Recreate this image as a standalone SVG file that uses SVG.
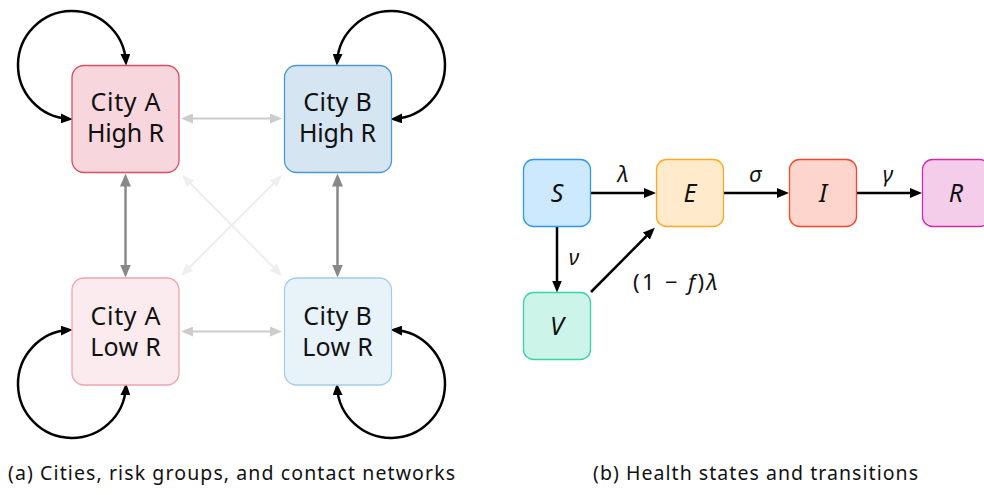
<svg xmlns="http://www.w3.org/2000/svg" width="984" height="495" viewBox="0 0 984 495">
<style>
  text { font-family: "Noto Sans", "Open Sans", "DejaVu Sans", sans-serif; fill: #111; }
  .city { font-size: 25px; text-anchor: middle; }
  .state { font-size: 25px; font-style: italic; text-anchor: middle; }
  .lbl { font-size: 22px; font-style: italic; text-anchor: middle; }
  .cap { font-size: 19.5px; }
  .loop { fill: none; stroke: #000; stroke-width: 2.5; marker-start: url(#ab); marker-end: url(#ab); }
  .flow { fill: none; stroke: #000; stroke-width: 2.5; marker-end: url(#ab); }
  .lg { fill: none; stroke: #cccccc; stroke-width: 2.2; marker-start: url(#alg); marker-end: url(#alg); }
  .dg { fill: none; stroke: #888888; stroke-width: 2.5; marker-start: url(#adg); marker-end: url(#adg); }
  .vl { fill: none; stroke: #eeeeee; stroke-width: 2.2; marker-start: url(#avl); marker-end: url(#avl); }
</style>
<defs>
  <marker id="ab" markerUnits="userSpaceOnUse" viewBox="0 0 12 10" refX="8" refY="5" markerWidth="12" markerHeight="10" orient="auto-start-reverse">
    <path d="M0,0 L12,5 L0,10 z" fill="#000"/>
  </marker>
  <marker id="alg" markerUnits="userSpaceOnUse" viewBox="0 0 12 10" refX="8" refY="5" markerWidth="12" markerHeight="10" orient="auto-start-reverse">
    <path d="M0,0 L12,5 L0,10 z" fill="#cccccc"/>
  </marker>
  <marker id="adg" markerUnits="userSpaceOnUse" viewBox="0 0 13 11" refX="9" refY="5.5" markerWidth="13" markerHeight="11" orient="auto-start-reverse">
    <path d="M0,0 L13,5.5 L0,11 z" fill="#888888"/>
  </marker>
  <marker id="avl" markerUnits="userSpaceOnUse" viewBox="0 0 12 10" refX="8" refY="5" markerWidth="12" markerHeight="10" orient="auto-start-reverse">
    <path d="M0,0 L12,5 L0,10 z" fill="#eeeeee"/>
  </marker>
</defs>

<g id="connectors">
  <path class="vl" d="M185,178 L279,273"/>
  <path class="vl" d="M279,178 L184,273"/>
  <path class="lg" d="M185,118.5 L278,118.5"/>
  <path class="lg" d="M185,331.5 L278,331.5"/>
  <path class="dg" d="M125.5,177.5 L125.5,273.5"/>
  <path class="dg" d="M337.5,177.5 L337.5,273.5"/>
  <path class="loop" d="M68.76,118.9 A54,54 0 1 1 125.9,61.76"/>
  <path class="loop" d="M337.1,61.76 A54,54 0 1 1 394.24,118.9"/>
  <path class="loop" d="M68.76,330.1 A54,54 0 1 0 125.9,387.24"/>
  <path class="loop" d="M394.24,330.1 A54,54 0 1 1 337.1,387.24"/>
  <path class="flow" d="M591,193 L652,193"/>
  <path class="flow" d="M723.5,193 L785,193"/>
  <path class="flow" d="M856.5,193 L918,193"/>
  <path class="flow" d="M557,227 L557,288.5"/>
  <path class="flow" d="M591,292 L652,230.5"/>
</g>

<g id="node-cityA-high">
  <rect x="72" y="65.5" width="107" height="107" rx="12" fill="#f7d7dd" stroke="#dc4d64" stroke-width="1.3"/>
  <text class="city" x="125.5" y="110.5" textLength="70" lengthAdjust="spacing">City A</text>
  <text class="city" x="125.5" y="142" textLength="77" lengthAdjust="spacing">High R</text>
</g>
<g id="node-cityB-high">
  <rect x="284.5" y="65.5" width="107" height="107" rx="12" fill="#d5e5f1" stroke="#4d98cc" stroke-width="1.3"/>
  <text class="city" x="337.5" y="110.5" textLength="68.5" lengthAdjust="spacing">City B</text>
  <text class="city" x="337.5" y="142" textLength="77" lengthAdjust="spacing">High R</text>
</g>
<g id="node-cityA-low">
  <rect x="72" y="278" width="107" height="107" rx="12" fill="#fbebee" stroke="#f0a3ae" stroke-width="1.3"/>
  <text class="city" x="125.5" y="324.8" textLength="70" lengthAdjust="spacing">City A</text>
  <text class="city" x="125.5" y="356.3" textLength="70.5" lengthAdjust="spacing">Low R</text>
</g>
<g id="node-cityB-low">
  <rect x="284.5" y="278" width="107" height="107" rx="12" fill="#e8f2f9" stroke="#a5cde8" stroke-width="1.3"/>
  <text class="city" x="337.5" y="324.8" textLength="68.5" lengthAdjust="spacing">City B</text>
  <text class="city" x="337.5" y="356.3" textLength="70.5" lengthAdjust="spacing">Low R</text>
</g>

<g id="node-S">
  <rect x="523.5" y="159.5" width="67" height="67" rx="10" fill="#cde9fd" stroke="#2f98ee" stroke-width="1.3"/>
  <text class="state" x="557" y="202">S</text>
</g>
<g id="node-E">
  <rect x="656.5" y="159.5" width="67" height="67" rx="10" fill="#ffebcc" stroke="#ffa722" stroke-width="1.3"/>
  <text class="state" x="690" y="202">E</text>
</g>
<g id="node-I">
  <rect x="789.5" y="159.5" width="67" height="67" rx="10" fill="#fdd5cc" stroke="#f5462a" stroke-width="1.3"/>
  <text class="state" x="823" y="202">I</text>
</g>
<g id="node-R">
  <rect x="922.5" y="159.5" width="67" height="67" rx="10" fill="#f4cdeb" stroke="#d52aa8" stroke-width="1.3"/>
  <text class="state" x="956" y="202">R</text>
</g>
<g id="node-V">
  <rect x="523.5" y="292.5" width="67" height="67" rx="10" fill="#ccf4e8" stroke="#3ad3a7" stroke-width="1.3"/>
  <text class="state" x="557" y="335">V</text>
</g>

<g id="labels">
  <text class="lbl" x="623" y="182">λ</text>
  <text class="lbl" x="755" y="182">σ</text>
  <text class="lbl" x="888" y="182">γ</text>
  <text class="lbl" x="574" y="265">ν</text>
  <text x="633" y="290" style="font-size:22px" textLength="85" lengthAdjust="spacing">(1 − <tspan font-style="italic">f</tspan>)<tspan font-style="italic">λ</tspan></text>
</g>

<g id="captions">
  <text class="cap" x="8" y="480" textLength="447" lengthAdjust="spacing">(a) Cities, risk groups, and contact networks</text>
  <text class="cap" x="593" y="480" textLength="325" lengthAdjust="spacing">(b) Health states and transitions</text>
</g>
</svg>
